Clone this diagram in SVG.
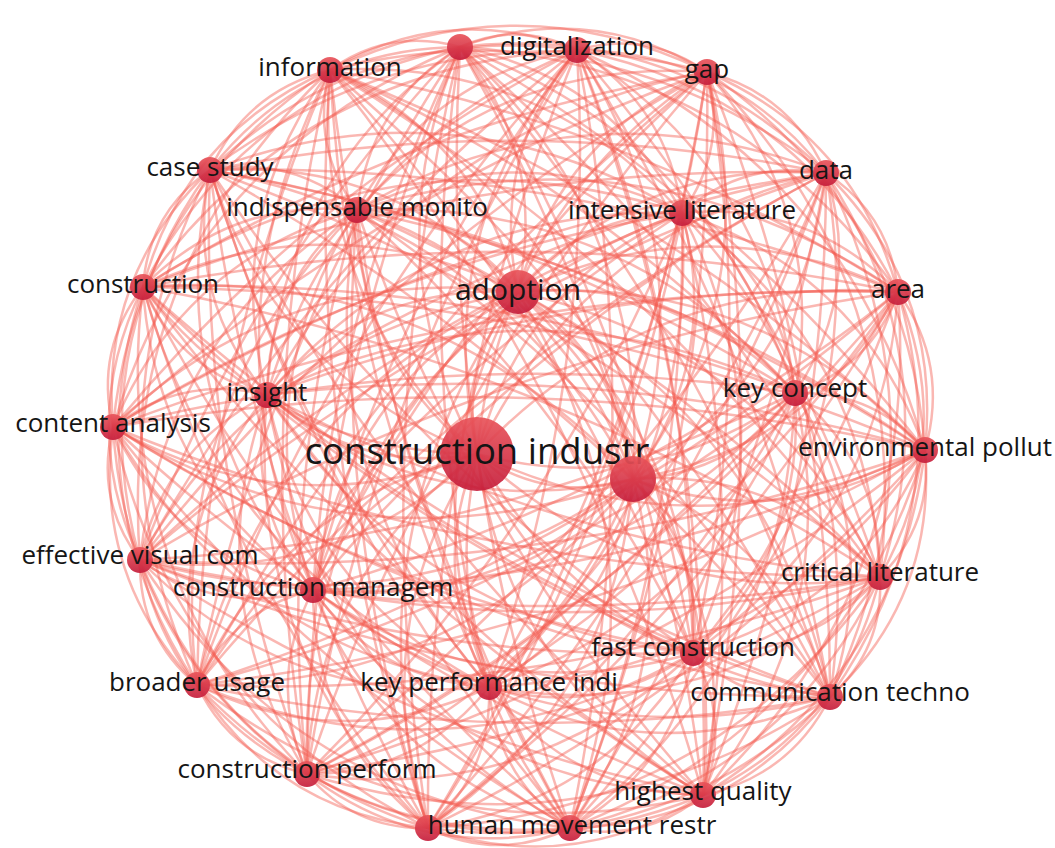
<svg xmlns="http://www.w3.org/2000/svg" xmlns:xlink="http://www.w3.org/1999/xlink" width="1055" height="848" viewBox="0 0 1055 848">
<defs>
<linearGradient id="ng" x1="0" y1="0" x2="0" y2="1">
<stop offset="0" stop-color="#e9545a"/>
<stop offset="1" stop-color="#c51d3b"/>
</linearGradient>
<path id="e" d="M0 0Q.5-.24 1 0"/>
<path id="f" d="M0 0Q.5-.1 1 0"/>
<style>
#e,#f{fill:none;stroke:#f45a50;stroke-opacity:.44;stroke-width:2.5;vector-effect:non-scaling-stroke}
.node circle{fill:url(#ng);fill-opacity:.92}
.node text{font-family:"Open Sans","DejaVu Sans",sans-serif;font-size:26px;fill:#151515;text-anchor:middle}
</style>
</defs>
<rect width="1055" height="848" fill="#ffffff"/>
<g id="edges">
<use href="#e" transform="matrix(-292 29 -29 -292 925 450)"/><use href="#e" transform="matrix(-45 127 -127 -45 925 450)"/><use href="#e" transform="matrix(-95 247 -247 -95 925 450)"/><use href="#e" transform="matrix(-232 203 -203 -232 925 450)"/><use href="#e" transform="matrix(-222 345 -345 -222 925 450)"/><use href="#e" transform="matrix(-355 378 -378 -355 925 450)"/><use href="#e" transform="matrix(-436 237 -237 -436 925 450)"/><use href="#f" transform="matrix(-497 378 -378 -497 925 450)"/><use href="#f" transform="matrix(-618 324 -324 -618 925 450)"/><use href="#f" transform="matrix(-728 235 -235 -728 925 450)"/><use href="#f" transform="matrix(-612 140 -140 -612 925 450)"/><use href="#e" transform="matrix(-448 4 -4 -448 925 450)"/><use href="#f" transform="matrix(-785 110 -110 -785 925 450)"/>
<use href="#f" transform="matrix(812 23 -23 812 113 427)"/><use href="#f" transform="matrix(658 55 -55 658 267 395)"/><use href="#f" transform="matrix(782 163 -163 782 143 287)"/><use href="#f" transform="matrix(715 280 -280 715 210 170)"/><use href="#f" transform="matrix(568 240 -240 568 357 210)"/><use href="#f" transform="matrix(595 380 -380 595 330 70)"/><use href="#f" transform="matrix(465 403 -403 465 460 47)"/><use href="#e" transform="matrix(407 158 -158 407 518 292)"/><use href="#e" transform="matrix(348 400 -400 348 577 50)"/><use href="#e" transform="matrix(218 378 -378 218 707 72)"/><use href="#e" transform="matrix(243 237 -237 243 682 213)"/><use href="#e" transform="matrix(99 277 -277 99 826 173)"/><use href="#e" transform="matrix(27 158 -158 27 898 292)"/><use href="#e" transform="matrix(130 57 -57 130 795 393)"/>
<use href="#e" transform="matrix(247 98 -98 247 633 479)"/><use href="#e" transform="matrix(197 218 -218 197 633 479)"/><use href="#e" transform="matrix(60 174 -174 60 633 479)"/><use href="#e" transform="matrix(70 316 -316 70 633 479)"/><use href="#e" transform="matrix(-63 349 -349 -63 633 479)"/><use href="#e" transform="matrix(-144 208 -208 -144 633 479)"/><use href="#e" transform="matrix(-205 349 -349 -205 633 479)"/><use href="#e" transform="matrix(-326 295 -295 -326 633 479)"/><use href="#e" transform="matrix(-436 206 -206 -436 633 479)"/><use href="#e" transform="matrix(-320 111 -111 -320 633 479)"/><use href="#e" transform="matrix(-156 -25 25 -156 633 479)"/><use href="#e" transform="matrix(-493 81 -81 -493 633 479)"/><use href="#e" transform="matrix(-520 -52 52 -520 633 479)"/><use href="#e" transform="matrix(-366 -84 84 -366 633 479)"/>
<use href="#e" transform="matrix(490 192 -192 490 143 287)"/><use href="#e" transform="matrix(423 309 -309 423 210 170)"/><use href="#e" transform="matrix(276 269 -269 276 357 210)"/><use href="#e" transform="matrix(303 409 -409 303 330 70)"/><use href="#e" transform="matrix(173 432 -432 173 460 47)"/><use href="#e" transform="matrix(115 187 -187 115 518 292)"/><use href="#e" transform="matrix(56 429 -429 56 577 50)"/><use href="#e" transform="matrix(-74 407 -407 -74 707 72)"/><use href="#e" transform="matrix(-49 266 -266 -49 682 213)"/><use href="#e" transform="matrix(-193 306 -306 -193 826 173)"/><use href="#e" transform="matrix(-265 187 -187 -265 898 292)"/><use href="#e" transform="matrix(-162 86 -86 -162 795 393)"/>
<use href="#e" transform="matrix(-50 120 -120 -50 880 577)"/><use href="#e" transform="matrix(-187 76 -76 -187 880 577)"/><use href="#e" transform="matrix(-177 218 -218 -177 880 577)"/><use href="#e" transform="matrix(-310 251 -251 -310 880 577)"/><use href="#e" transform="matrix(-391 110 -110 -391 880 577)"/><use href="#e" transform="matrix(-452 251 -251 -452 880 577)"/><use href="#f" transform="matrix(-573 197 -197 -573 880 577)"/><use href="#f" transform="matrix(-683 108 -108 -683 880 577)"/><use href="#f" transform="matrix(-567 13 -13 -567 880 577)"/><use href="#e" transform="matrix(-403 -123 123 -403 880 577)"/><use href="#f" transform="matrix(-740 -17 17 -740 880 577)"/><use href="#f" transform="matrix(-767 -150 150 -767 880 577)"/><use href="#f" transform="matrix(-613 -182 182 -613 880 577)"/>
<use href="#f" transform="matrix(737 290 -290 737 143 287)"/><use href="#f" transform="matrix(670 407 -407 670 210 170)"/><use href="#f" transform="matrix(523 367 -367 523 357 210)"/><use href="#f" transform="matrix(550 507 -507 550 330 70)"/><use href="#f" transform="matrix(420 530 -530 420 460 47)"/><use href="#e" transform="matrix(362 285 -285 362 518 292)"/><use href="#f" transform="matrix(303 527 -527 303 577 50)"/><use href="#e" transform="matrix(173 505 -505 173 707 72)"/><use href="#e" transform="matrix(198 364 -364 198 682 213)"/><use href="#e" transform="matrix(54 404 -404 54 826 173)"/><use href="#e" transform="matrix(-18 285 -285 -18 898 292)"/><use href="#e" transform="matrix(85 184 -184 85 795 393)"/>
<use href="#e" transform="matrix(-137 -44 44 -137 830 697)"/><use href="#e" transform="matrix(-127 98 -98 -127 830 697)"/><use href="#e" transform="matrix(-260 131 -131 -260 830 697)"/><use href="#e" transform="matrix(-341 -10 10 -341 830 697)"/><use href="#e" transform="matrix(-402 131 -131 -402 830 697)"/><use href="#e" transform="matrix(-523 77 -77 -523 830 697)"/><use href="#f" transform="matrix(-633 -12 12 -633 830 697)"/><use href="#e" transform="matrix(-517 -107 107 -517 830 697)"/><use href="#e" transform="matrix(-353 -243 243 -353 830 697)"/><use href="#f" transform="matrix(-690 -137 137 -690 830 697)"/><use href="#f" transform="matrix(-717 -270 270 -717 830 697)"/><use href="#f" transform="matrix(-563 -302 302 -563 830 697)"/><use href="#f" transform="matrix(-687 -410 410 -687 830 697)"/>
<use href="#f" transform="matrix(620 527 -527 620 210 170)"/><use href="#f" transform="matrix(473 487 -487 473 357 210)"/><use href="#f" transform="matrix(500 627 -627 500 330 70)"/><use href="#f" transform="matrix(370 650 -650 370 460 47)"/><use href="#e" transform="matrix(312 405 -405 312 518 292)"/><use href="#f" transform="matrix(253 647 -647 253 577 50)"/><use href="#f" transform="matrix(123 625 -625 123 707 72)"/><use href="#e" transform="matrix(148 484 -484 148 682 213)"/><use href="#e" transform="matrix(4 524 -524 4 826 173)"/><use href="#e" transform="matrix(-68 405 -405 -68 898 292)"/><use href="#e" transform="matrix(35 304 -304 35 795 393)"/>
<use href="#e" transform="matrix(10 142 -142 10 693 653)"/><use href="#e" transform="matrix(-123 175 -175 -123 693 653)"/><use href="#e" transform="matrix(-204 34 -34 -204 693 653)"/><use href="#e" transform="matrix(-265 175 -175 -265 693 653)"/><use href="#e" transform="matrix(-386 121 -121 -386 693 653)"/><use href="#e" transform="matrix(-496 32 -32 -496 693 653)"/><use href="#e" transform="matrix(-380 -63 63 -380 693 653)"/><use href="#e" transform="matrix(-216 -199 199 -216 693 653)"/><use href="#f" transform="matrix(-553 -93 93 -553 693 653)"/><use href="#f" transform="matrix(-580 -226 226 -580 693 653)"/><use href="#e" transform="matrix(-426 -258 258 -426 693 653)"/><use href="#f" transform="matrix(-550 -366 366 -550 693 653)"/><use href="#f" transform="matrix(-483 -483 483 -483 693 653)"/>
<use href="#f" transform="matrix(336 443 -443 336 357 210)"/><use href="#f" transform="matrix(363 583 -583 363 330 70)"/><use href="#f" transform="matrix(233 606 -606 233 460 47)"/><use href="#e" transform="matrix(175 361 -361 175 518 292)"/><use href="#f" transform="matrix(116 603 -603 116 577 50)"/><use href="#f" transform="matrix(-14 581 -581 -14 707 72)"/><use href="#e" transform="matrix(11 440 -440 11 682 213)"/><use href="#e" transform="matrix(-133 480 -480 -133 826 173)"/><use href="#e" transform="matrix(-205 361 -361 -205 898 292)"/><use href="#e" transform="matrix(-102 260 -260 -102 795 393)"/>
<use href="#e" transform="matrix(-133 33 -33 -133 703 795)"/><use href="#e" transform="matrix(-214 -108 108 -214 703 795)"/><use href="#e" transform="matrix(-275 33 -33 -275 703 795)"/><use href="#e" transform="matrix(-396 -21 21 -396 703 795)"/><use href="#e" transform="matrix(-506 -110 110 -506 703 795)"/><use href="#e" transform="matrix(-390 -205 205 -390 703 795)"/><use href="#e" transform="matrix(-226 -341 341 -226 703 795)"/><use href="#f" transform="matrix(-563 -235 235 -563 703 795)"/><use href="#f" transform="matrix(-590 -368 368 -590 703 795)"/><use href="#f" transform="matrix(-436 -400 400 -436 703 795)"/><use href="#f" transform="matrix(-560 -508 508 -560 703 795)"/><use href="#f" transform="matrix(-493 -625 625 -493 703 795)"/><use href="#f" transform="matrix(-346 -585 585 -346 703 795)"/>
<use href="#f" transform="matrix(373 725 -725 373 330 70)"/><use href="#f" transform="matrix(243 748 -748 243 460 47)"/><use href="#e" transform="matrix(185 503 -503 185 518 292)"/><use href="#f" transform="matrix(126 745 -745 126 577 50)"/><use href="#f" transform="matrix(-4 723 -723 -4 707 72)"/><use href="#f" transform="matrix(21 582 -582 21 682 213)"/><use href="#f" transform="matrix(-123 622 -622 -123 826 173)"/><use href="#e" transform="matrix(-195 503 -503 -195 898 292)"/><use href="#e" transform="matrix(-92 402 -402 -92 795 393)"/>
<use href="#e" transform="matrix(-81 -141 141 -81 570 828)"/><use href="#e" transform="matrix(-142 0 0 -142 570 828)"/><use href="#e" transform="matrix(-263 -54 54 -263 570 828)"/><use href="#e" transform="matrix(-373 -143 143 -373 570 828)"/><use href="#e" transform="matrix(-257 -238 238 -257 570 828)"/><use href="#e" transform="matrix(-93 -374 374 -93 570 828)"/><use href="#e" transform="matrix(-430 -268 268 -430 570 828)"/><use href="#f" transform="matrix(-457 -401 401 -457 570 828)"/><use href="#e" transform="matrix(-303 -433 433 -303 570 828)"/><use href="#f" transform="matrix(-427 -541 541 -427 570 828)"/><use href="#f" transform="matrix(-360 -658 658 -360 570 828)"/><use href="#f" transform="matrix(-213 -618 618 -213 570 828)"/><use href="#f" transform="matrix(-240 -758 758 -240 570 828)"/><use href="#f" transform="matrix(-110 -781 781 -110 570 828)"/>
<use href="#e" transform="matrix(52 536 -536 52 518 292)"/><use href="#f" transform="matrix(-7 778 -778 -7 577 50)"/><use href="#f" transform="matrix(-137 756 -756 -137 707 72)"/><use href="#f" transform="matrix(-112 615 -615 -112 682 213)"/><use href="#f" transform="matrix(-256 655 -655 -256 826 173)"/><use href="#f" transform="matrix(-328 536 -536 -328 898 292)"/><use href="#e" transform="matrix(-225 435 -435 -225 795 393)"/>
<use href="#e" transform="matrix(-61 141 -141 -61 489 687)"/><use href="#e" transform="matrix(-182 87 -87 -182 489 687)"/><use href="#e" transform="matrix(-292 -2 2 -292 489 687)"/><use href="#e" transform="matrix(-176 -97 97 -176 489 687)"/><use href="#e" transform="matrix(-12 -233 233 -12 489 687)"/><use href="#e" transform="matrix(-349 -127 127 -349 489 687)"/><use href="#e" transform="matrix(-376 -260 260 -376 489 687)"/><use href="#e" transform="matrix(-222 -292 292 -222 489 687)"/><use href="#e" transform="matrix(-346 -400 400 -346 489 687)"/><use href="#f" transform="matrix(-279 -517 517 -279 489 687)"/><use href="#e" transform="matrix(-132 -477 477 -132 489 687)"/><use href="#f" transform="matrix(-159 -617 617 -159 489 687)"/><use href="#f" transform="matrix(-29 -640 640 -29 489 687)"/><use href="#e" transform="matrix(29 -395 395 29 489 687)"/>
<use href="#f" transform="matrix(-88 637 -637 -88 577 50)"/><use href="#f" transform="matrix(-218 615 -615 -218 707 72)"/><use href="#e" transform="matrix(-193 474 -474 -193 682 213)"/><use href="#f" transform="matrix(-337 514 -514 -337 826 173)"/><use href="#f" transform="matrix(-409 395 -395 -409 898 292)"/><use href="#e" transform="matrix(-306 294 -294 -306 795 393)"/>
<use href="#e" transform="matrix(-121 -54 54 -121 428 828)"/><use href="#e" transform="matrix(-231 -143 143 -231 428 828)"/><use href="#e" transform="matrix(-115 -238 238 -115 428 828)"/><use href="#e" transform="matrix(49 -374 374 49 428 828)"/><use href="#e" transform="matrix(-288 -268 268 -288 428 828)"/><use href="#e" transform="matrix(-315 -401 401 -315 428 828)"/><use href="#e" transform="matrix(-161 -433 433 -161 428 828)"/><use href="#f" transform="matrix(-285 -541 541 -285 428 828)"/><use href="#f" transform="matrix(-218 -658 658 -218 428 828)"/><use href="#f" transform="matrix(-71 -618 618 -71 428 828)"/><use href="#f" transform="matrix(-98 -758 758 -98 428 828)"/><use href="#f" transform="matrix(32 -781 781 32 428 828)"/><use href="#e" transform="matrix(90 -536 536 90 428 828)"/><use href="#f" transform="matrix(149 -778 778 149 428 828)"/>
<use href="#f" transform="matrix(-279 756 -756 -279 707 72)"/><use href="#f" transform="matrix(-254 615 -615 -254 682 213)"/><use href="#f" transform="matrix(-398 655 -655 -398 826 173)"/><use href="#f" transform="matrix(-470 536 -536 -470 898 292)"/><use href="#f" transform="matrix(-367 435 -435 -367 795 393)"/>
<use href="#e" transform="matrix(-110 -89 89 -110 307 774)"/><use href="#e" transform="matrix(6 -184 184 6 307 774)"/><use href="#e" transform="matrix(170 -320 320 170 307 774)"/><use href="#e" transform="matrix(-167 -214 214 -167 307 774)"/><use href="#e" transform="matrix(-194 -347 347 -194 307 774)"/><use href="#e" transform="matrix(-40 -379 379 -40 307 774)"/><use href="#e" transform="matrix(-164 -487 487 -164 307 774)"/><use href="#f" transform="matrix(-97 -604 604 -97 307 774)"/><use href="#f" transform="matrix(50 -564 564 50 307 774)"/><use href="#f" transform="matrix(23 -704 704 23 307 774)"/><use href="#f" transform="matrix(153 -727 727 153 307 774)"/><use href="#e" transform="matrix(211 -482 482 211 307 774)"/><use href="#f" transform="matrix(270 -724 724 270 307 774)"/><use href="#f" transform="matrix(400 -702 702 400 307 774)"/>
<use href="#f" transform="matrix(-375 561 -561 -375 682 213)"/><use href="#f" transform="matrix(-519 601 -601 -519 826 173)"/><use href="#f" transform="matrix(-591 482 -482 -591 898 292)"/><use href="#f" transform="matrix(-488 381 -381 -488 795 393)"/>
<use href="#e" transform="matrix(116 -95 95 116 197 685)"/><use href="#e" transform="matrix(280 -231 231 280 197 685)"/><use href="#e" transform="matrix(-57 -125 125 -57 197 685)"/><use href="#e" transform="matrix(-84 -258 258 -84 197 685)"/><use href="#e" transform="matrix(70 -290 290 70 197 685)"/><use href="#e" transform="matrix(-54 -398 398 -54 197 685)"/><use href="#e" transform="matrix(13 -515 515 13 197 685)"/><use href="#e" transform="matrix(160 -475 475 160 197 685)"/><use href="#f" transform="matrix(133 -615 615 133 197 685)"/><use href="#f" transform="matrix(263 -638 638 263 197 685)"/><use href="#e" transform="matrix(321 -393 393 321 197 685)"/><use href="#f" transform="matrix(380 -635 635 380 197 685)"/><use href="#f" transform="matrix(510 -613 613 510 197 685)"/><use href="#f" transform="matrix(485 -472 472 485 197 685)"/><use href="#f" transform="matrix(629 -512 512 629 197 685)"/>
<use href="#f" transform="matrix(-701 393 -393 -701 898 292)"/><use href="#f" transform="matrix(-598 292 -292 -598 795 393)"/>
<use href="#e" transform="matrix(164 -136 136 164 313 590)"/><use href="#e" transform="matrix(-173 -30 30 -173 313 590)"/><use href="#e" transform="matrix(-200 -163 163 -200 313 590)"/><use href="#e" transform="matrix(-46 -195 195 -46 313 590)"/><use href="#e" transform="matrix(-170 -303 303 -170 313 590)"/><use href="#e" transform="matrix(-103 -420 420 -103 313 590)"/><use href="#e" transform="matrix(44 -380 380 44 313 590)"/><use href="#e" transform="matrix(17 -520 520 17 313 590)"/><use href="#f" transform="matrix(147 -543 543 147 313 590)"/><use href="#e" transform="matrix(205 -298 298 205 313 590)"/><use href="#f" transform="matrix(264 -540 540 264 313 590)"/><use href="#f" transform="matrix(394 -518 518 394 313 590)"/><use href="#e" transform="matrix(369 -377 377 369 313 590)"/><use href="#f" transform="matrix(513 -417 417 513 313 590)"/>
<use href="#f" transform="matrix(-585 298 -298 -585 898 292)"/><use href="#e" transform="matrix(-482 197 -197 -482 795 393)"/>
<use href="#e" transform="matrix(-337 106 -106 -337 477 454)"/><use href="#e" transform="matrix(-364 -27 27 -364 477 454)"/><use href="#e" transform="matrix(-210 -59 59 -210 477 454)"/><use href="#e" transform="matrix(-334 -167 167 -334 477 454)"/><use href="#e" transform="matrix(-267 -284 284 -267 477 454)"/><use href="#e" transform="matrix(-120 -244 244 -120 477 454)"/><use href="#e" transform="matrix(-147 -384 384 -147 477 454)"/><use href="#e" transform="matrix(-17 -407 407 -17 477 454)"/><use href="#e" transform="matrix(41 -162 162 41 477 454)"/><use href="#e" transform="matrix(100 -404 404 100 477 454)"/><use href="#e" transform="matrix(230 -382 382 230 477 454)"/><use href="#e" transform="matrix(205 -241 241 205 477 454)"/><use href="#e" transform="matrix(349 -281 281 349 477 454)"/><use href="#e" transform="matrix(421 -162 162 421 477 454)"/>
<use href="#e" transform="matrix(-318 61 -61 -318 795 393)"/>
<use href="#e" transform="matrix(-27 -133 133 -27 140 560)"/><use href="#e" transform="matrix(127 -165 165 127 140 560)"/><use href="#e" transform="matrix(3 -273 273 3 140 560)"/><use href="#e" transform="matrix(70 -390 390 70 140 560)"/><use href="#e" transform="matrix(217 -350 350 217 140 560)"/><use href="#e" transform="matrix(190 -490 490 190 140 560)"/><use href="#f" transform="matrix(320 -513 513 320 140 560)"/><use href="#e" transform="matrix(378 -268 268 378 140 560)"/><use href="#f" transform="matrix(437 -510 510 437 140 560)"/><use href="#f" transform="matrix(567 -488 488 567 140 560)"/><use href="#f" transform="matrix(542 -347 347 542 140 560)"/><use href="#f" transform="matrix(686 -387 387 686 140 560)"/><use href="#f" transform="matrix(758 -268 268 758 140 560)"/>
<use href="#f" transform="matrix(-655 167 -167 -655 795 393)"/>
<use href="#e" transform="matrix(154 -32 32 154 113 427)"/><use href="#e" transform="matrix(30 -140 140 30 113 427)"/><use href="#e" transform="matrix(97 -257 257 97 113 427)"/><use href="#e" transform="matrix(244 -217 217 244 113 427)"/><use href="#e" transform="matrix(217 -357 357 217 113 427)"/><use href="#e" transform="matrix(347 -380 380 347 113 427)"/><use href="#e" transform="matrix(405 -135 135 405 113 427)"/><use href="#f" transform="matrix(464 -377 377 464 113 427)"/><use href="#f" transform="matrix(594 -355 355 594 113 427)"/><use href="#f" transform="matrix(569 -214 214 569 113 427)"/><use href="#f" transform="matrix(713 -254 254 713 113 427)"/><use href="#f" transform="matrix(785 -135 135 785 113 427)"/><use href="#f" transform="matrix(682 -34 34 682 113 427)"/>
<use href="#e" transform="matrix(-124 -108 108 -124 267 395)"/><use href="#e" transform="matrix(-57 -225 225 -57 267 395)"/><use href="#e" transform="matrix(90 -185 185 90 267 395)"/><use href="#e" transform="matrix(63 -325 325 63 267 395)"/><use href="#e" transform="matrix(193 -348 348 193 267 395)"/><use href="#e" transform="matrix(251 -103 103 251 267 395)"/><use href="#e" transform="matrix(310 -345 345 310 267 395)"/><use href="#e" transform="matrix(440 -323 323 440 267 395)"/><use href="#e" transform="matrix(415 -182 182 415 267 395)"/><use href="#f" transform="matrix(559 -222 222 559 267 395)"/><use href="#f" transform="matrix(631 -103 103 631 267 395)"/><use href="#e" transform="matrix(528 -2 2 528 267 395)"/>
<use href="#e" transform="matrix(67 -117 117 67 143 287)"/><use href="#e" transform="matrix(214 -77 77 214 143 287)"/><use href="#e" transform="matrix(187 -217 217 187 143 287)"/><use href="#e" transform="matrix(317 -240 240 317 143 287)"/><use href="#e" transform="matrix(375 5 -5 375 143 287)"/><use href="#e" transform="matrix(434 -237 237 434 143 287)"/><use href="#f" transform="matrix(564 -215 215 564 143 287)"/><use href="#e" transform="matrix(539 -74 74 539 143 287)"/><use href="#f" transform="matrix(683 -114 114 683 143 287)"/><use href="#f" transform="matrix(755 5 -5 755 143 287)"/><use href="#f" transform="matrix(652 106 -106 652 143 287)"/>
<use href="#e" transform="matrix(147 40 -40 147 210 170)"/><use href="#e" transform="matrix(120 -100 100 120 210 170)"/><use href="#e" transform="matrix(250 -123 123 250 210 170)"/><use href="#e" transform="matrix(308 122 -122 308 210 170)"/><use href="#e" transform="matrix(367 -120 120 367 210 170)"/><use href="#e" transform="matrix(497 -98 98 497 210 170)"/><use href="#e" transform="matrix(472 43 -43 472 210 170)"/><use href="#f" transform="matrix(616 3 -3 616 210 170)"/><use href="#f" transform="matrix(688 122 -122 688 210 170)"/><use href="#f" transform="matrix(585 223 -223 585 210 170)"/>
<use href="#e" transform="matrix(-27 -140 140 -27 357 210)"/><use href="#e" transform="matrix(103 -163 163 103 357 210)"/><use href="#e" transform="matrix(161 82 -82 161 357 210)"/><use href="#e" transform="matrix(220 -160 160 220 357 210)"/><use href="#e" transform="matrix(350 -138 138 350 357 210)"/><use href="#e" transform="matrix(325 3 -3 325 357 210)"/><use href="#e" transform="matrix(469 -37 37 469 357 210)"/><use href="#e" transform="matrix(541 82 -82 541 357 210)"/><use href="#e" transform="matrix(438 183 -183 438 357 210)"/>
<use href="#e" transform="matrix(130 -23 23 130 330 70)"/><use href="#e" transform="matrix(188 222 -222 188 330 70)"/><use href="#e" transform="matrix(247 -20 20 247 330 70)"/><use href="#e" transform="matrix(377 2 -2 377 330 70)"/><use href="#e" transform="matrix(352 143 -143 352 330 70)"/><use href="#e" transform="matrix(496 103 -103 496 330 70)"/><use href="#f" transform="matrix(568 222 -222 568 330 70)"/><use href="#f" transform="matrix(465 323 -323 465 330 70)"/>
<use href="#e" transform="matrix(58 245 -245 58 460 47)"/><use href="#e" transform="matrix(117 3 -3 117 460 47)"/><use href="#e" transform="matrix(247 25 -25 247 460 47)"/><use href="#e" transform="matrix(222 166 -166 222 460 47)"/><use href="#e" transform="matrix(366 126 -126 366 460 47)"/><use href="#e" transform="matrix(438 245 -245 438 460 47)"/><use href="#e" transform="matrix(335 346 -346 335 460 47)"/>
<use href="#e" transform="matrix(59 -242 242 59 518 292)"/><use href="#e" transform="matrix(189 -220 220 189 518 292)"/><use href="#e" transform="matrix(164 -79 79 164 518 292)"/><use href="#e" transform="matrix(308 -119 119 308 518 292)"/><use href="#e" transform="matrix(380 0 0 380 518 292)"/><use href="#e" transform="matrix(277 101 -101 277 518 292)"/>
<use href="#e" transform="matrix(130 22 -22 130 577 50)"/><use href="#e" transform="matrix(105 163 -163 105 577 50)"/><use href="#e" transform="matrix(249 123 -123 249 577 50)"/><use href="#e" transform="matrix(321 242 -242 321 577 50)"/><use href="#e" transform="matrix(218 343 -343 218 577 50)"/>
<use href="#e" transform="matrix(-25 141 -141 -25 707 72)"/><use href="#e" transform="matrix(119 101 -101 119 707 72)"/><use href="#e" transform="matrix(191 220 -220 191 707 72)"/><use href="#e" transform="matrix(88 321 -321 88 707 72)"/>
<use href="#e" transform="matrix(144 -40 40 144 682 213)"/><use href="#e" transform="matrix(216 79 -79 216 682 213)"/><use href="#e" transform="matrix(113 180 -180 113 682 213)"/>
<use href="#e" transform="matrix(72 119 -119 72 826 173)"/><use href="#e" transform="matrix(-31 220 -220 -31 826 173)"/>
<use href="#e" transform="matrix(-103 101 -101 -103 898 292)"/>
</g>
<g id="n-construction-industr" class="node"><circle cx="477" cy="454" r="37"/><text x="477" y="464" style="font-size:36.5px">construction industr</text></g>
<g id="n-unlabeled-1" class="node"><circle cx="633" cy="479" r="23"/></g>
<g id="n-adoption" class="node"><circle cx="518" cy="292" r="22"/><text x="518" y="300" style="font-size:30px">adoption</text></g>
<g id="n-digitalization" class="node"><circle cx="577" cy="50" r="13"/><text x="577" y="55">digitalization</text></g>
<g id="n-unlabeled-2" class="node"><circle cx="460" cy="47" r="13"/></g>
<g id="n-information" class="node"><circle cx="330" cy="70" r="13"/><text x="330" y="76">information</text></g>
<g id="n-gap" class="node"><circle cx="707" cy="72" r="13"/><text x="707" y="78">gap</text></g>
<g id="n-case-study" class="node"><circle cx="210" cy="170" r="13"/><text x="210" y="176">case study</text></g>
<g id="n-data" class="node"><circle cx="826" cy="173" r="13"/><text x="826" y="179">data</text></g>
<g id="n-indispensable-monito" class="node"><circle cx="357" cy="210" r="13"/><text x="357" y="216">indispensable monito</text></g>
<g id="n-intensive-literature" class="node"><circle cx="682" cy="213" r="13"/><text x="682" y="219">intensive literature</text></g>
<g id="n-construction" class="node"><circle cx="143" cy="287" r="13"/><text x="143" y="293">construction</text></g>
<g id="n-area" class="node"><circle cx="898" cy="292" r="13"/><text x="898" y="298">area</text></g>
<g id="n-insight" class="node"><circle cx="267" cy="395" r="13"/><text x="267" y="401">insight</text></g>
<g id="n-key-concept" class="node"><circle cx="795" cy="393" r="13"/><text x="795" y="397">key concept</text></g>
<g id="n-content-analysis" class="node"><circle cx="113" cy="427" r="13"/><text x="113" y="432">content analysis</text></g>
<g id="n-environmental-pollut" class="node"><circle cx="925" cy="450" r="13"/><text x="925" y="456">environmental pollut</text></g>
<g id="n-effective-visual-com" class="node"><circle cx="140" cy="560" r="13"/><text x="140" y="564">effective visual com</text></g>
<g id="n-construction-managem" class="node"><circle cx="313" cy="590" r="13"/><text x="313" y="596">construction managem</text></g>
<g id="n-critical-literature" class="node"><circle cx="880" cy="577" r="13"/><text x="880" y="581">critical literature</text></g>
<g id="n-fast-construction" class="node"><circle cx="693" cy="653" r="13"/><text x="693" y="656">fast construction</text></g>
<g id="n-broader-usage" class="node"><circle cx="197" cy="685" r="13"/><text x="197" y="691">broader usage</text></g>
<g id="n-key-performance-indi" class="node"><circle cx="489" cy="687" r="13"/><text x="489" y="691">key performance indi</text></g>
<g id="n-communication-techno" class="node"><circle cx="830" cy="697" r="13"/><text x="830" y="701">communication techno</text></g>
<g id="n-construction-perform" class="node"><circle cx="307" cy="774" r="13"/><text x="307" y="778">construction perform</text></g>
<g id="n-highest-quality" class="node"><circle cx="703" cy="795" r="13"/><text x="703" y="800">highest quality</text></g>
<g id="n-unlabeled-3" class="node"><circle cx="428" cy="828" r="13"/></g>
<g id="n-human-movement-restr" class="node"><circle cx="570" cy="828" r="13"/><text x="572" y="834">human movement restr</text></g>
</svg>
